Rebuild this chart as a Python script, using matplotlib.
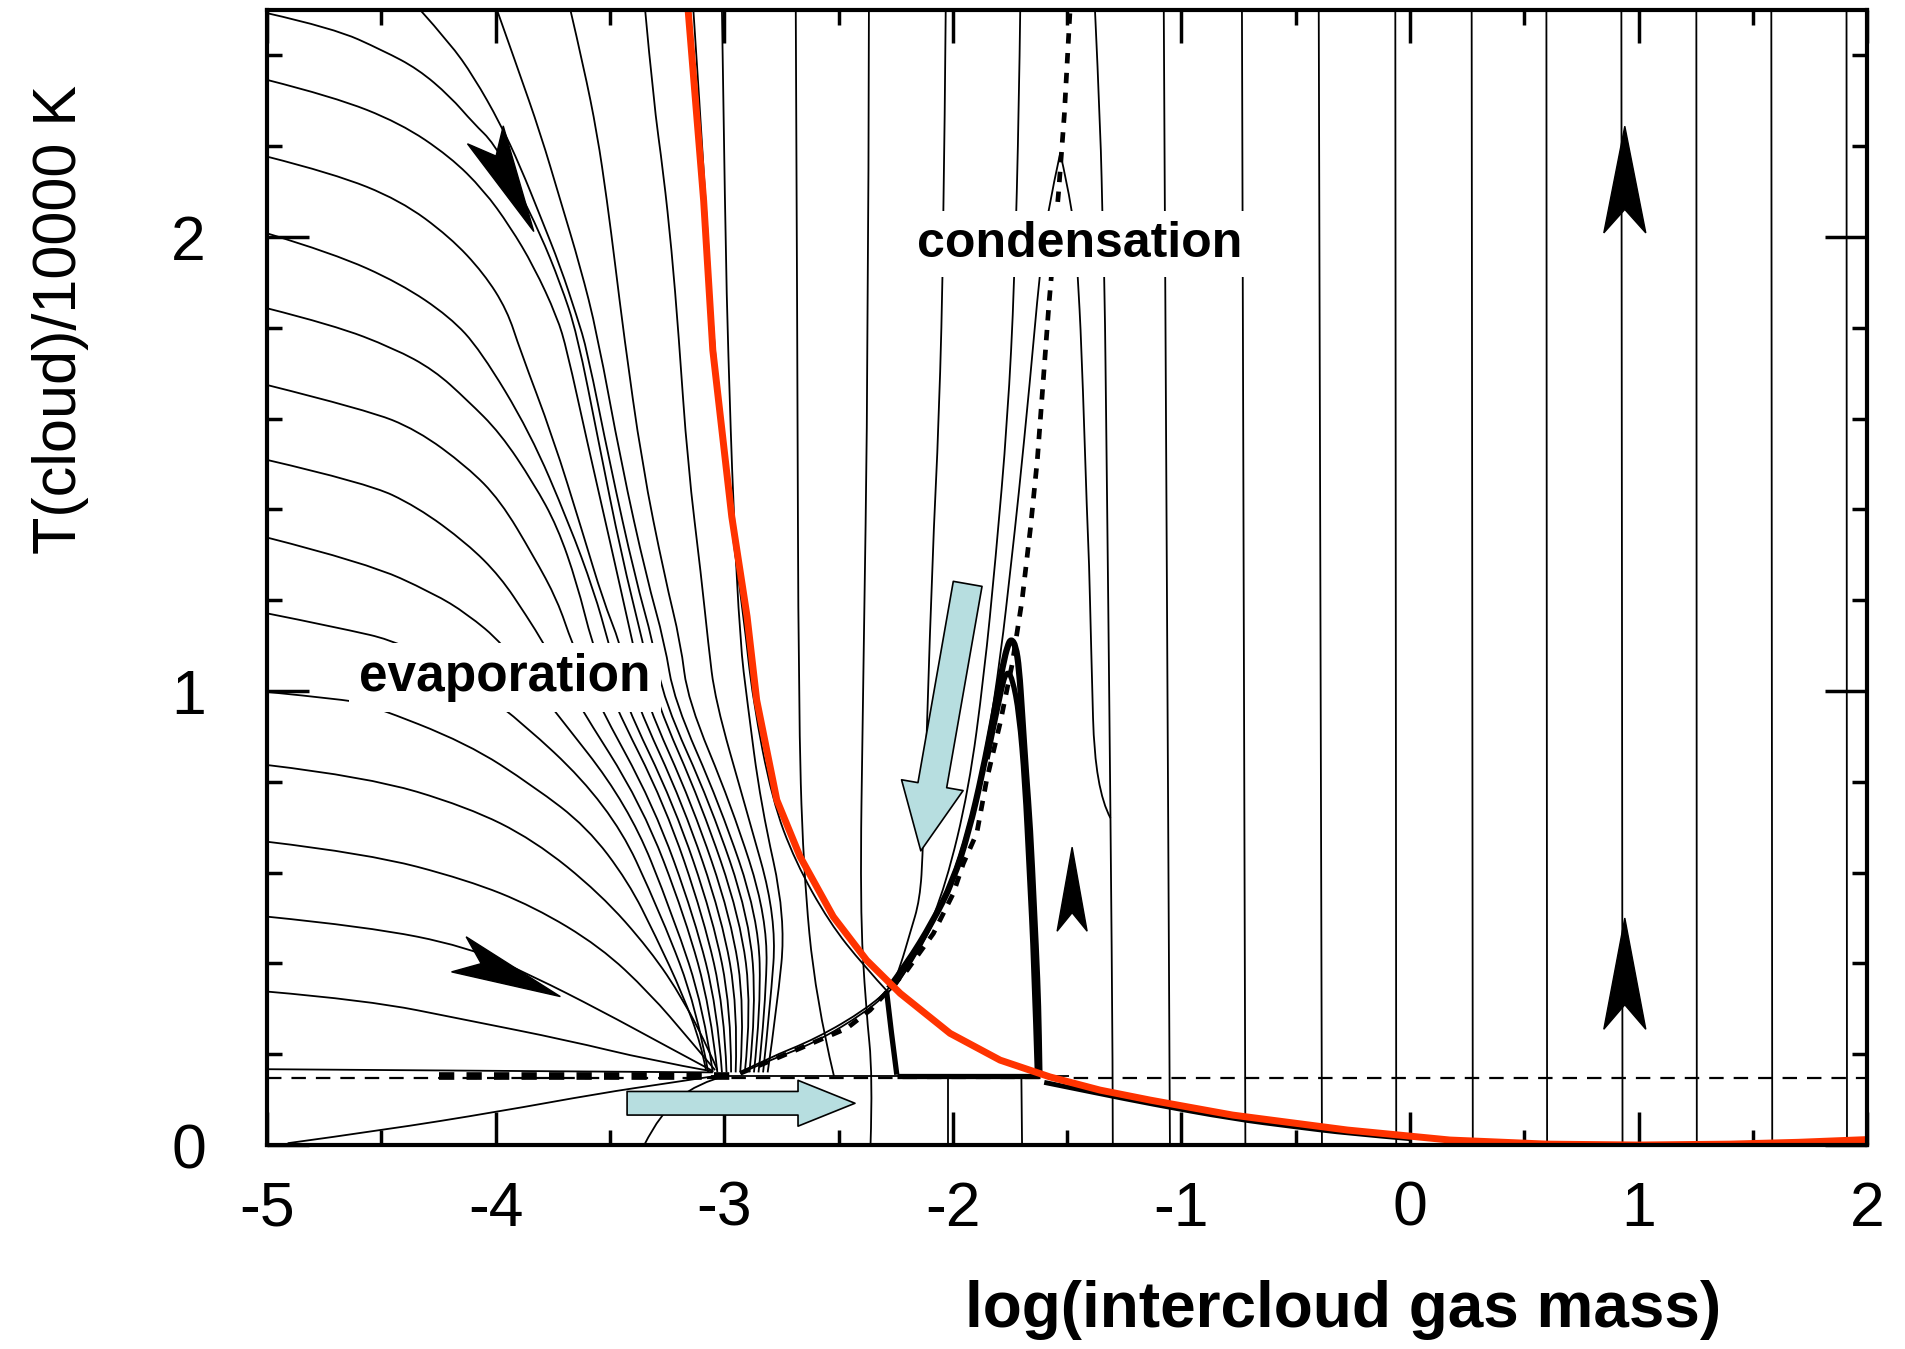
import numpy as np
import matplotlib
matplotlib.use("Agg")
import matplotlib.pyplot as plt
from matplotlib.patches import Polygon, FancyArrowPatch, ArrowStyle, PathPatch
from matplotlib.path import Path
from matplotlib.transforms import IdentityTransform

plt.rcParams['font.family'] = ['Liberation Sans', 'DejaVu Sans']
plt.rcParams['axes.unicode_minus'] = False

# ---- axis ticks -------------------------------------------------------------
x_major = [-5, -4, -3, -2, -1, 0, 1, 2]
x_minor = [-4.5, -3.5, -2.5, -1.5, -0.5, 0.5, 1.5]
y_major = [0, 1, 2]
y_minor = [0.2, 0.4, 0.6, 0.8, 1.2, 1.4, 1.6, 1.8, 2.2, 2.4]

# ---- red curve (equilibrium locus) ------------------------------------------
red_x = [-3.158, -3.09, -3.05, -2.967, -2.9, -2.858, -2.77, -2.668, -2.523, -2.377,
         -2.23, -2.012, -1.793, -1.575, -1.356, -1.137, -0.776, -0.273, 0.175, 0.6,
         1.0, 1.4, 1.7, 2.0]
red_y = [2.5, 2.08, 1.751, 1.384, 1.164, 0.98, 0.76, 0.635, 0.503, 0.407,
         0.334, 0.246, 0.187, 0.150, 0.121, 0.099, 0.066, 0.033, 0.011, 0.002,
         0.0, 0.002, 0.006, 0.012]

# ---- dashed condensation curve ----------------------------------------------
cond_x = [-2.93, -2.8, -2.668, -2.464, -2.362, -2.2, -2.085, -1.998, -1.954, -1.895,
          -1.852, -1.793, -1.74, -1.697, -1.66, -1.63, -1.58, -1.537, -1.512, -1.487]
cond_y = [0.158, 0.185, 0.213, 0.257, 0.297, 0.385, 0.466, 0.554, 0.62, 0.687,
          0.804, 0.929, 1.06, 1.2, 1.36, 1.51, 1.848, 2.10, 2.27, 2.5]
floor_y = 0.148

# ---- trajectories entering from the left / top (upper parts) ----------------
fan_upper = {
    "a1171": ([-5, -4.71], [1.171, 1.142]),
    "a1338": ([-5, -4.563, -4.271, -4.125], [1.338, 1.282, 1.215, 1.17]),
    "a1509": ([-5, -4.563, -4.344, -4.125, -3.98, -3.863], [1.509, 1.458, 1.406, 1.325, 1.252, 1.164]),
    "a1671": ([-5, -4.563, -4.344, -4.125, -3.98, -3.833, -3.73], [1.674, 1.619, 1.575, 1.494, 1.42, 1.296, 1.2]),
    "a1843": ([-5, -4.71, -4.446, -4.27, -4.125, -3.98, -3.833, -3.73, -3.644],
              [1.843, 1.806, 1.755, 1.707, 1.641, 1.568, 1.457, 1.362, 1.237]),
    "a2008": ([-5, -4.71, -4.418, -4.2, -4.067, -3.85, -3.68, -3.57],
              [2.008, 1.964, 1.898, 1.824, 1.751, 1.57, 1.37, 1.22]),
    "a2177": ([-5, -4.71, -4.418, -4.2, -4.052, -3.95, -3.893, -3.75, -3.62, -3.53],
              [2.177, 2.14, 2.081, 2.0, 1.92, 1.839, 1.751, 1.56, 1.35, 1.2]),
    "a2346": ([-5, -4.71, -4.418, -4.2, -4.052, -3.937, -3.833, -3.731, -3.688, -3.6, -3.5],
              [2.346, 2.309, 2.251, 2.177, 2.103, 2.023, 1.935, 1.824, 1.751, 1.55, 1.33]),
    "a2493": ([-5, -4.71, -4.49, -4.34, -4.2, -4.096, -4.008, -3.906, -3.806, -3.717, -3.644, -3.55, -3.45],
              [2.493, 2.46, 2.41, 2.37, 2.31, 2.25, 2.207, 2.11, 2.008, 1.898, 1.788, 1.55, 1.3]),
    "t1": ([-4.33, -4.2, -4.096, -3.98, -3.892, -3.804, -3.717, -3.644, -3.6, -3.5, -3.39],
           [2.5, 2.427, 2.353, 2.25, 2.155, 2.045, 1.935, 1.824, 1.751, 1.5, 1.25]),
    "t2": ([-3.994, -3.906, -3.804, -3.717, -3.63, -3.556, -3.45, -3.34],
           [2.5, 2.375, 2.228, 2.081, 1.935, 1.788, 1.5, 1.25]),
    "t3": ([-3.673, -3.615, -3.556, -3.513, -3.476, -3.44, -3.36, -3.26],
           [2.5, 2.375, 2.228, 2.081, 1.935, 1.788, 1.5, 1.25]),
    "t4": ([-3.346, -3.31, -3.266, -3.23, -3.2, -3.16, -3.10], [2.5, 2.302, 2.14, 1.971, 1.788, 1.5, 1.25]),
    "v1": ([-3.01, -2.995, -2.983, -2.96], [2.5, 2.0, 1.751, 1.4]),
}
# lower parts: x positions at these heights, converging near log M = -3
fan_levels = [1.105, 0.98, 0.75, 0.5, 0.3, 0.16]
fan_lower = {
    "a1171": [-4.39, -3.99, -3.50, -3.27, -3.12, -3.07],
    "a1338": [-3.97, -3.78, -3.42, -3.22, -3.09, -3.05],
    "a1509": [-3.79, -3.65, -3.36, -3.17, -3.06, -3.03],
    "a1671": [-3.666, -3.56, -3.31, -3.13, -3.03, -3.01],
    "a1843": [-3.578, -3.49, -3.26, -3.09, -3.00, -2.99],
    "a2008": [-3.505, -3.44, -3.22, -3.05, -2.97, -2.97],
    "a2177": [-3.456, -3.39, -3.18, -3.01, -2.94, -2.95],
    "a2346": [-3.40, -3.345, -3.14, -2.97, -2.91, -2.93],
    "a2493": [-3.355, -3.30, -3.10, -2.93, -2.88, -2.91],
    "t1": [-3.31, -3.265, -3.06, -2.89, -2.86, -2.89],
    "t2": [-3.26, -3.22, -3.02, -2.85, -2.84, -2.87],
    "t3": [-3.19, -3.16, -2.97, -2.81, -2.82, -2.85],
    "t4": [-3.07, -3.04, -2.91, -2.77, -2.80, -2.83],
    "v1": [-2.93, -2.90, -2.84, -2.73, -2.77, -2.81],
}

# low trajectories from the left edge and from the bottom
low_curves = [
    ([-5, -4.64, -4.55, -4.125, -3.833, -3.6, -3.42, -3.30, -3.18, -3.10, -3.08],
     [0.998, 0.98, 0.969, 0.885, 0.79, 0.70, 0.58, 0.46, 0.33, 0.22, 0.165]),
    ([-5, -4.563, -4.125, -3.833, -3.543, -3.325, -3.177, -3.06, -3.03],
     [0.837, 0.811, 0.745, 0.672, 0.554, 0.43, 0.319, 0.202, 0.165]),
    ([-5, -4.563, -4.125, -3.833, -3.543, -3.325, -3.15, -3.04],
     [0.668, 0.642, 0.584, 0.525, 0.437, 0.334, 0.231, 0.165]),
    ([-5, -4.563, -4.125, -3.833, -3.543, -3.25, -3.05],
     [0.503, 0.481, 0.437, 0.371, 0.297, 0.217, 0.163]),
    ([-5, -4.563, -4.125, -3.688, -3.325, -3.05], [0.338, 0.319, 0.275, 0.231, 0.187, 0.162]),
    ([-5, -3.05], [0.167, 0.16]),
    ([-4.91, -4.49, -3.994, -3.543, -3.25, -3.0], [0.004, 0.033, 0.073, 0.114, 0.136, 0.155]),
    ([-3.35, -3.28, -3.12, -2.98], [0.0, 0.07, 0.136, 0.155]),
    ([-3.06, -1.49], [0.152, 0.152]),
]

# trajectories right of the red curve
mid_curves = [
    ([-3.135, -3.08, -3.045, -2.975, -2.915, -2.875, -2.79, -2.69, -2.54, -2.39, -2.28],
     [2.5, 2.08, 1.751, 1.384, 1.164, 0.98, 0.76, 0.625, 0.49, 0.395, 0.335]),
    ([-2.687, -2.68, -2.675, -2.655, -2.6, -2.52], [2.5, 1.75, 0.98, 0.613, 0.32, 0.152]),
    ([-2.367, -2.37, -2.393, -2.406, -2.38, -2.35, -2.36], [2.5, 1.75, 0.98, 0.525, 0.3, 0.152, 0.0]),
    ([-2.031, -2.04, -2.06, -2.09, -2.13, -2.144, -2.187, -2.23, -2.265, -2.377, -2.595, -2.814, -2.93],
     [2.5, 2.0, 1.6, 1.29, 0.65, 0.54, 0.467, 0.393, 0.35, 0.30, 0.235, 0.19, 0.16]),
    ([-2.02, -2.02], [0.152, 0.0]),
    ([-1.705, -1.71, -1.73, -1.76, -1.813, -1.863, -1.93, -2.031, -2.132, -2.232, -2.275, -2.38, -2.6, -2.82, -2.93],
     [2.5, 2.3, 1.9, 1.6, 1.289, 1.036, 0.783, 0.572, 0.446, 0.361, 0.34, 0.293, 0.226, 0.183, 0.158]),
    ([-1.70, -1.697], [0.152, 0.0]),
    ([-1.53, -1.588, -1.62, -1.663, -1.713, -1.745, -1.79, -1.85, -1.93, -2.03, -2.14, -2.25],
     [2.185, 2.05, 1.919, 1.679, 1.426, 1.28, 1.08, 0.88, 0.7, 0.55, 0.43, 0.35]),
    ([-1.53, -1.47, -1.454, -1.437, -1.412, -1.404, -1.395, -1.378, -1.31],
     [2.185, 2.05, 1.919, 1.763, 1.375, 1.289, 1.10, 0.783, 0.72]),
    ([-1.378, -1.353, -1.345, -1.336, -1.328, -1.32, -1.31, -1.30, -1.30],
     [2.5, 2.23, 2.03, 1.9, 1.55, 1.2, 0.72, 0.152, 0.0]),
]
vert_top = [-1.077, -0.735, -0.399, -0.064, 0.27, 0.597, 0.925, 1.253, 1.581, 1.91]
vert_bot = [-1.05, -0.72, -0.385, -0.06, 0.275, 0.60, 0.93, 1.255, 1.585, 1.912]

# thick highlighted trajectories
thick_curves = [
    ([-2.29, -2.27, -2.245], [0.34, 0.25, 0.155]),
    ([-2.245, -1.62], [0.152, 0.152]),
    ([-2.28, -2.2, -2.09, -2.0, -1.93, -1.87, -1.82, -1.78, -1.76, -1.745, -1.725, -1.71, -1.697,
      -1.68, -1.662, -1.645, -1.63, -1.624, -1.621],
     [0.345, 0.40, 0.49, 0.58, 0.69, 0.82, 0.95, 1.06, 1.10, 1.115, 1.10, 1.05, 0.951,
      0.82, 0.698, 0.52, 0.361, 0.25, 0.155]),
    ([-1.85, -1.79, -1.765, -1.74, -1.71, -1.685, -1.665, -1.645, -1.63],
     [0.85, 1.0, 1.045, 1.03, 0.95, 0.8, 0.6, 0.4, 0.155]),
]
shadow_x = [-1.6, -1.356, -1.137, -0.776, -0.5, -0.273, 0.0]
shadow_y = [0.138, 0.113, 0.091, 0.058, 0.040, 0.026, 0.014]

# direction darts: (tail, tip, half width px)
darts = [
    ((-4.045, 2.225), (-3.833, 2.012), 20),
    ((-4.161, 0.420), (-3.717, 0.327), 19),
    ((-1.478, 0.471), (-1.478, 0.656), 15),
    ((0.94, 2.009), (0.94, 2.244), 21),
    ((0.94, 0.255), (0.94, 0.500), 21),
]

# light blue block arrows
block_down = ((-1.935, 1.236), (-2.14, 0.648))
block_right = ((-3.425, 0.092), (-2.428, 0.092))


def smooth_line(ax, xs, ys, color="black", lw=1.3, zorder=2):
    pts = np.column_stack([xs, ys])
    if len(pts) < 3:
        ax.plot(xs, ys, color=color, lw=lw, zorder=zorder, solid_capstyle="butt")
        return
    verts = [pts[0]]
    codes = [Path.MOVETO]
    for i in range(1, len(pts) - 1):
        end = pts[i + 1] if i == len(pts) - 2 else (pts[i] + pts[i + 1]) / 2
        verts += [pts[i], end]
        codes += [Path.CURVE3, Path.CURVE3]
    ax.add_patch(PathPatch(Path(verts, codes), fill=False, ec=color, lw=lw,
                           zorder=zorder, capstyle="butt", joinstyle="round"))


fig = plt.figure(figsize=(19.05, 13.49), dpi=100)
ax = fig.add_axes([0.1402, 0.1512, 0.8399, 0.8414])
ax.set_xlim(-5, 2)
ax.set_ylim(0, 2.5)

for key, (ux, uy) in fan_upper.items():
    smooth_line(ax, list(ux) + fan_lower[key], list(uy) + fan_levels)
for xs, ys in low_curves + mid_curves:
    smooth_line(ax, xs, ys)
for xt, xb in zip(vert_top, vert_bot):
    ax.plot([xt, xb], [2.5, 0.0], color="black", lw=1.3, zorder=2)

for i, (xs, ys) in enumerate(thick_curves):
    smooth_line(ax, xs, ys, lw=4.5 if i == 2 else 3.8, zorder=3)
smooth_line(ax, shadow_x, shadow_y, lw=3.5, zorder=3)

# dashed lines
ax.plot([-5, 2], [floor_y, floor_y], color="black", lw=1.6, dashes=(6.5, 4.5), zorder=3)
ax.plot([-4.25, -2.95], [floor_y + 0.003, floor_y + 0.003], color="black", lw=5.5,
        dashes=(2.0, 1.6), zorder=3)
ax.plot(cond_x, cond_y, color="black", lw=3.4, dashes=(2.2, 2.0), zorder=4)

ax.plot(red_x, red_y, color="#ff3300", lw=5.0, zorder=5, solid_capstyle="butt",
        solid_joinstyle="round")

# labels inside the plot
box = dict(boxstyle="square,pad=0.2", fc="white", ec="none")
ax.text(-1.445, 1.985, "condensation", ha="center", va="center", fontsize=36,
        fontweight="bold", bbox=box, zorder=6)
ax.text(-3.96, 1.03, "evaporation", ha="center", va="center", fontsize=37,
        fontweight="bold", bbox=box, zorder=6)

# block arrows
blue = "#b7dee0"
ax.add_patch(FancyArrowPatch(block_down[0], block_down[1],
                             arrowstyle=ArrowStyle.Simple(head_length=48, head_width=45, tail_width=21),
                             mutation_scale=1, fc=blue, ec="black", lw=1.2, shrinkA=0, shrinkB=0, zorder=7))
ax.add_patch(FancyArrowPatch(block_right[0], block_right[1],
                             arrowstyle=ArrowStyle.Simple(head_length=41, head_width=33, tail_width=17),
                             mutation_scale=1, fc=blue, ec="black", lw=1.2, shrinkA=0, shrinkB=0, zorder=7))

# darts drawn in pixel space so they keep their shape
for tail, tip, hw in darts:
    p0 = ax.transData.transform(tail)
    p1 = ax.transData.transform(tip)
    d = p1 - p0
    L = np.hypot(*d)
    u = d / L
    n = np.array([-u[1], u[0]])
    verts = [p1, p0 + n * hw, p0 + u * 0.22 * L, p0 - n * hw]
    ax.add_patch(Polygon(verts, closed=True, transform=IdentityTransform(),
                         fc="black", ec="black", lw=1, zorder=6, clip_on=False))

# axes styling
for s in ax.spines.values():
    s.set_linewidth(3)
    s.set_zorder(8)
ax.set_xticks(x_major)
ax.set_xticklabels([str(v) for v in x_major])
ax.set_xticks(x_minor, minor=True)
ax.set_yticks(y_major)
ax.set_yticklabels([str(v) for v in y_major])
ax.set_yticks(y_minor, minor=True)
ax.tick_params(axis="both", which="both", direction="in", top=True, right=True, width=2.5)
ax.tick_params(axis="x", which="major", length=24, labelsize=45, pad=25)
ax.tick_params(axis="x", which="minor", length=11)
ax.tick_params(axis="y", which="major", length=30, labelsize=45, pad=44)
ax.tick_params(axis="y", which="minor", length=11)

fig.text(0.032, 0.7635, "T(cloud)/10000 K", rotation=90, ha="center", va="center", fontsize=44)
fig.text(0.705, 0.029, "log(intercloud gas mass)", ha="center", va="center",
         fontsize=46, fontweight="bold")

fig.savefig("out.png", dpi=100)
